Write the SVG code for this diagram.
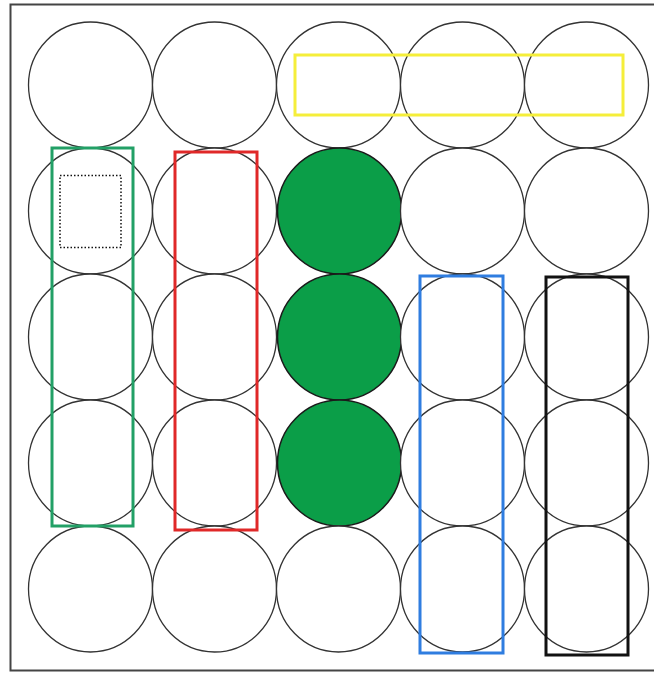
<svg xmlns="http://www.w3.org/2000/svg" width="654" height="673" viewBox="0 0 654 673">
<style>
.c{fill:#fff;stroke:#333;stroke-width:1.3}
.g{fill:#0B9E48;stroke:#1a1a1a;stroke-width:1.5}
.r{fill:none;stroke-width:3}
</style>
<rect x="0" y="0" width="654" height="673" fill="#fff"/>
<rect id="frame" x="10.5" y="4.5" width="660" height="666" fill="none" stroke="#444" stroke-width="2"/>
<g id="circles">
<ellipse class="c" cx="90.5" cy="85" rx="62" ry="63"/>
<ellipse class="c" cx="214.5" cy="85" rx="62" ry="63"/>
<ellipse class="c" cx="338.5" cy="85" rx="62" ry="63"/>
<ellipse class="c" cx="462.5" cy="85" rx="62" ry="63"/>
<ellipse class="c" cx="586.5" cy="85" rx="62" ry="63"/>
<ellipse class="c" cx="90.5" cy="211" rx="62" ry="63"/>
<ellipse class="c" cx="214.5" cy="211" rx="62" ry="63"/>
<ellipse class="g" cx="339.5" cy="211" rx="62" ry="63"/>
<ellipse class="c" cx="462.5" cy="211" rx="62" ry="63"/>
<ellipse class="c" cx="586.5" cy="211" rx="62" ry="63"/>
<ellipse class="c" cx="90.5" cy="337" rx="62" ry="63"/>
<ellipse class="c" cx="214.5" cy="337" rx="62" ry="63"/>
<ellipse class="g" cx="339.5" cy="337" rx="62" ry="63"/>
<ellipse class="c" cx="462.5" cy="337" rx="62" ry="63"/>
<ellipse class="c" cx="586.5" cy="337" rx="62" ry="63"/>
<ellipse class="c" cx="90.5" cy="463" rx="62" ry="63"/>
<ellipse class="c" cx="214.5" cy="463" rx="62" ry="63"/>
<ellipse class="g" cx="339.5" cy="463" rx="62" ry="63"/>
<ellipse class="c" cx="462.5" cy="463" rx="62" ry="63"/>
<ellipse class="c" cx="586.5" cy="463" rx="62" ry="63"/>
<ellipse class="c" cx="90.5" cy="589" rx="62" ry="63"/>
<ellipse class="c" cx="214.5" cy="589" rx="62" ry="63"/>
<ellipse class="c" cx="338.5" cy="589" rx="62" ry="63"/>
<ellipse class="c" cx="462.5" cy="589" rx="62" ry="63"/>
<ellipse class="c" cx="586.5" cy="589" rx="62" ry="63"/>
</g>
<g id="boxes">
<rect id="yellow" class="r" x="295" y="55" width="328" height="60" stroke="#F5EE3A"/>
<rect id="green" class="r" x="52" y="148" width="81" height="378" stroke="#22A066"/>
<rect id="dotted" x="60" y="175.5" width="61" height="72" fill="none" stroke="#111" stroke-width="1.5" stroke-dasharray="1.5,2"/>
<rect id="red" class="r" x="175" y="152" width="82" height="378" stroke="#E02828"/>
<rect id="blue" class="r" x="420" y="276" width="83" height="377" stroke="#2F7DE0"/>
<rect id="black" class="r" x="546" y="277" width="82" height="378" stroke="#111"/>
</g>
</svg>
